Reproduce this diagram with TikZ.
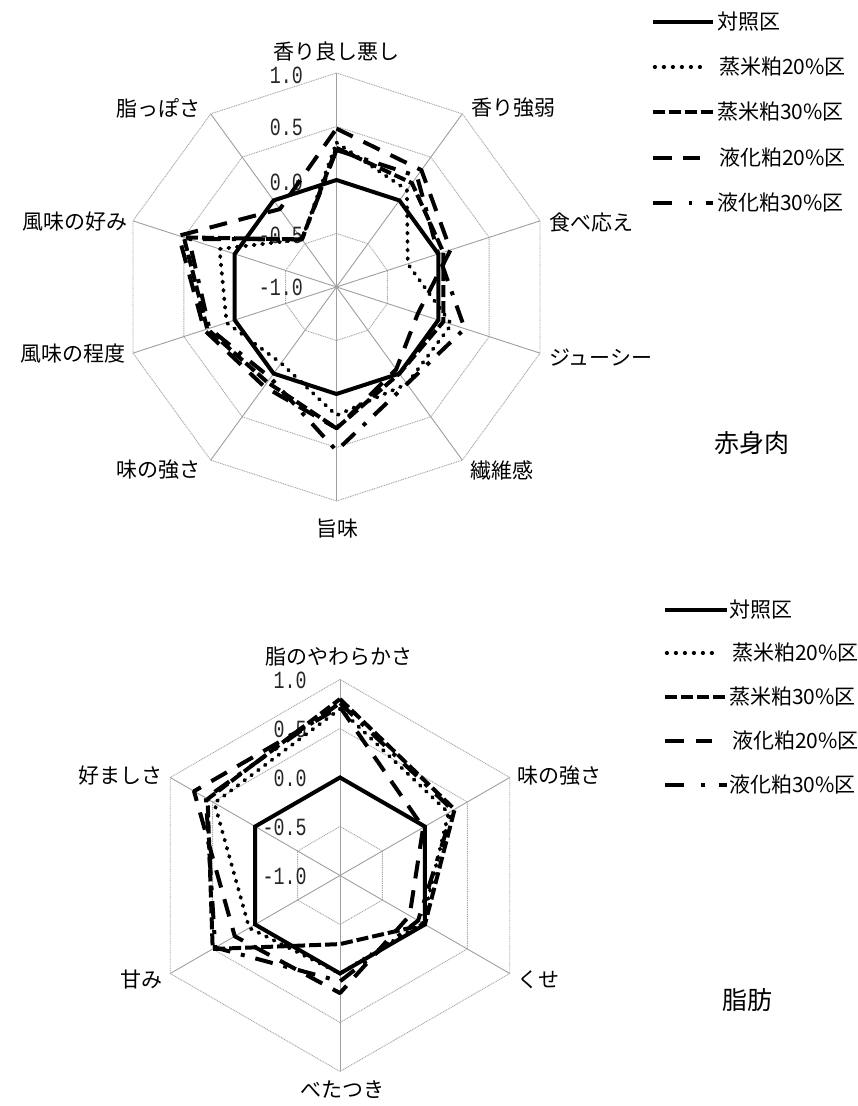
\documentclass[tikz,border=0pt]{standalone}
\usepackage{fontspec}
\newfontfamily\jpfont{Noto Sans CJK JP}
\newfontfamily\numfont{Liberation Mono}
\tikzset{
  spoke/.style={draw=gray!75, line width=0.9pt},
  ring/.style={draw=gray!70, line width=0.9pt, dash pattern=on 1pt off 0.8pt},
  ctrl/.style={line width=4pt, line join=miter},
  serdot/.style={line width=3.8pt, line cap=round, line join=round, dash pattern=on 1pt off 7.5pt},
  serdash/.style={line width=4pt, line join=round, dash pattern=on 12pt off 4pt},
  serlong/.style={line width=4pt, line join=round, dash pattern=on 18pt off 12pt},
  serdd/.style={line width=4pt, line join=round, dash pattern=on 18pt off 11pt on 4pt off 11pt},
  lab/.style={font=\jpfont\fontsize{21}{24}\selectfont, inner sep=0pt},
  ttl/.style={font=\jpfont\fontsize{25}{28}\selectfont, inner sep=0pt},
  sc/.style={inner sep=0pt, anchor=east, text=black!85},
}
\newcommand\sclab[1]{\scalebox{1}[1.35]{\numfont\fontsize{18.3}{20}\selectfont #1}}
\begin{document}
\begin{tikzpicture}[x=1pt,y=1pt]
\fill[white] (0,0) rectangle (858,1106);
\useasboundingbox (0,0) rectangle (858,1106);

% ================= top chart (10 axes) =================
\begin{scope}[shift={(336.5,819)}]
  \foreach \k in {1,...,4}
    \draw[ring] (90:{\k*53.5}) \foreach \i in {1,...,9} { -- ({90-36*\i}:{\k*53.5}) } -- cycle;
  \foreach \i in {0,...,9}
    \draw[spoke] (0,0) -- ({90-36*\i}:214);
  % scale labels
  \node[sc] (ta) at (-33.5,{4*53.5-2}) {\sclab{1.0}};
  \node[sc] (tb) at (-33.5,{3*53.5-1}) {\sclab{0.5}};
  \node[sc] (tc) at (-33.5,{2*53.5-2}) {\sclab{0.0}};
  \node[sc] (td) at (-33.5,{1*53.5-2}) {\sclab{-0.5}};
  \node[sc] (te) at (-33.5,{0*53.5+0}) {\sclab{-1.0}};
  % series
  \draw[ctrl] (90:107) \foreach \i in {1,...,9} { -- ({90-36*\i}:107) } -- cycle;
  \draw[serdot] (90:{(0.35+1)*107}) \foreach \v [count=\i] in {0.12,-0.30,0.13,0.12,0.20,-0.12,0.08,0.15,-0.45} { -- ({90-36*\i}:{(\v+1)*107}) } -- cycle;
  \draw[serdash] (90:{(0.30+1)*107}) \foreach \v [count=\i] in {0.20,0.05,0.05,0.00,0.32,0.10,0.27,0.50,-0.45} { -- ({90-36*\i}:{(\v+1)*107}) } -- cycle;
  \draw[serlong] (90:{(0.48+1)*107}) \foreach \v [count=\i] in {0.35,0.12,-0.20,-0.05,0.32,0.15,0.30,0.55,-0.10} { -- ({90-36*\i}:{(\v+1)*107}) } -- cycle;
  \draw[serdd] (90:{(0.28+1)*107}) \foreach \v [count=\i] in {0.28,0.00,0.26,0.12,0.53,0.05,0.25,0.45,-0.45} { -- ({90-36*\i}:{(\v+1)*107}) } -- cycle;
\end{scope}

% top axis labels
\node[lab] (a0) at (336,1054) {香り良し悪し};
\node[lab] (a1) at (513,998) {香り強弱};
\node[lab, anchor=west] (a2) at (549,883) {食べ応え};
\node[lab, anchor=west] (a3) at (549,748) {ジューシー};
\node[lab] (a4) at (502,636) {繊維感};
\node[lab] (a5) at (337,577) {旨味};
\node[lab] (a6) at (158,636) {味の強さ};
\node[lab, anchor=east] (a7) at (126,752) {風味の程度};
\node[lab, anchor=east] (a8) at (128,884) {風味の好み};
\node[lab] (a9) at (158,998) {脂っぽさ};
\node[ttl] (t1) at (752,663) {赤身肉};

% top legend
\draw[ctrl] (652.7,1084) -- (712.7,1084);
\draw[serdot, line width=3.4pt, dash pattern=on 0.8pt off 8.2pt] (654.5,1039) -- (707,1039);
\draw[serdash] (652.7,994) -- (712.7,994);
\draw[serlong, dash pattern=on 19pt off 11.5pt] (652.7,948) -- (700,948);
\draw[serdd, dash pattern=on 19pt off 17pt on 3.5pt off 14pt] (652.7,903) -- (712.7,903);
\node[lab, anchor=west] (l1) at (717,1084) {対照区};
\node[lab, anchor=west] (l2) at (719,1039) {蒸米粕20\%区};
\node[lab, anchor=west] (l3) at (717,994) {蒸米粕30\%区};
\node[lab, anchor=west] (l4) at (719,948) {液化粕20\%区};
\node[lab, anchor=west] (l5) at (717,903) {液化粕30\%区};

% ================= bottom chart (6 axes) =================
\begin{scope}[shift={(340,230.5)}]
  \foreach \k in {1,...,4}
    \draw[ring] (90:{\k*49}) \foreach \i in {1,...,5} { -- ({90-60*\i}:{\k*49}) } -- cycle;
  \foreach \i in {0,...,5}
    \draw[spoke] (0,0) -- ({90-60*\i}:196);
  \node[sc] (ba) at (-33.3,{4*49-1}) {\sclab{1.0}};
  \node[sc] (bb) at (-33.3,{3*49-1}) {\sclab{0.5}};
  \node[sc] (bc) at (-33.3,{2*49-1}) {\sclab{0.0}};
  \node[sc] (bd) at (-33.3,{1*49-1}) {\sclab{-0.5}};
  \node[sc] (be) at (-33.3,{0*49-1}) {\sclab{-1.0}};
  \draw[ctrl] (90:98) \foreach \i in {1,...,5} { -- ({90-60*\i}:98) } -- cycle;
  \draw[serdot] (90:{(0.70+1)*98}) \foreach \v [count=\i] in {0.28,-0.03,0.00,0.07,0.48} { -- ({90-60*\i}:{(\v+1)*98}) } -- cycle;
  \draw[serdash] (90:{(0.80+1)*98}) \foreach \v [count=\i] in {0.35,0.00,-0.30,0.50,0.56} { -- ({90-60*\i}:{(\v+1)*98}) } -- cycle;
  \draw[serlong] (90:{(0.72+1)*98}) \foreach \v [count=\i] in {-0.02,-0.18,0.20,0.24,0.72} { -- ({90-60*\i}:{(\v+1)*98}) } -- cycle;
  \draw[serdd] (90:{(0.76+1)*98}) \foreach \v [count=\i] in {0.33,-0.08,0.08,0.47,0.58} { -- ({90-60*\i}:{(\v+1)*98}) } -- cycle;
\end{scope}

\node[lab] (b0) at (339,449) {脂のやわらかさ};
\node[lab, anchor=west] (b1) at (517,330) {味の強さ};
\node[lab, anchor=west] (b2) at (517,126) {くせ};
\node[lab] (b3) at (342,16) {べたつき};
\node[lab, anchor=east] (b4) at (163,126) {甘み};
\node[lab, anchor=east] (b5) at (163,330) {好ましさ};
\node[ttl] (t2) at (747,106) {脂肪};

% bottom legend
\draw[ctrl] (665,496) -- (726.7,496);
\draw[serdot, line width=3.4pt, dash pattern=on 0.8pt off 8.2pt] (666.5,453) -- (719,453);
\draw[serdash] (665,409) -- (726.7,409);
\draw[serlong, dash pattern=on 19pt off 11.5pt] (665,365) -- (712,365);
\draw[serdd, dash pattern=on 19pt off 17pt on 3.5pt off 14pt] (665,321) -- (726.7,321);
\node[lab, anchor=west] (m1) at (729,496) {対照区};
\node[lab, anchor=west] (m2) at (732,453) {蒸米粕20\%区};
\node[lab, anchor=west] (m3) at (729,409) {蒸米粕30\%区};
\node[lab, anchor=west] (m4) at (732,365) {液化粕20\%区};
\node[lab, anchor=west] (m5) at (729,321) {液化粕30\%区};
\end{tikzpicture}
\end{document}
